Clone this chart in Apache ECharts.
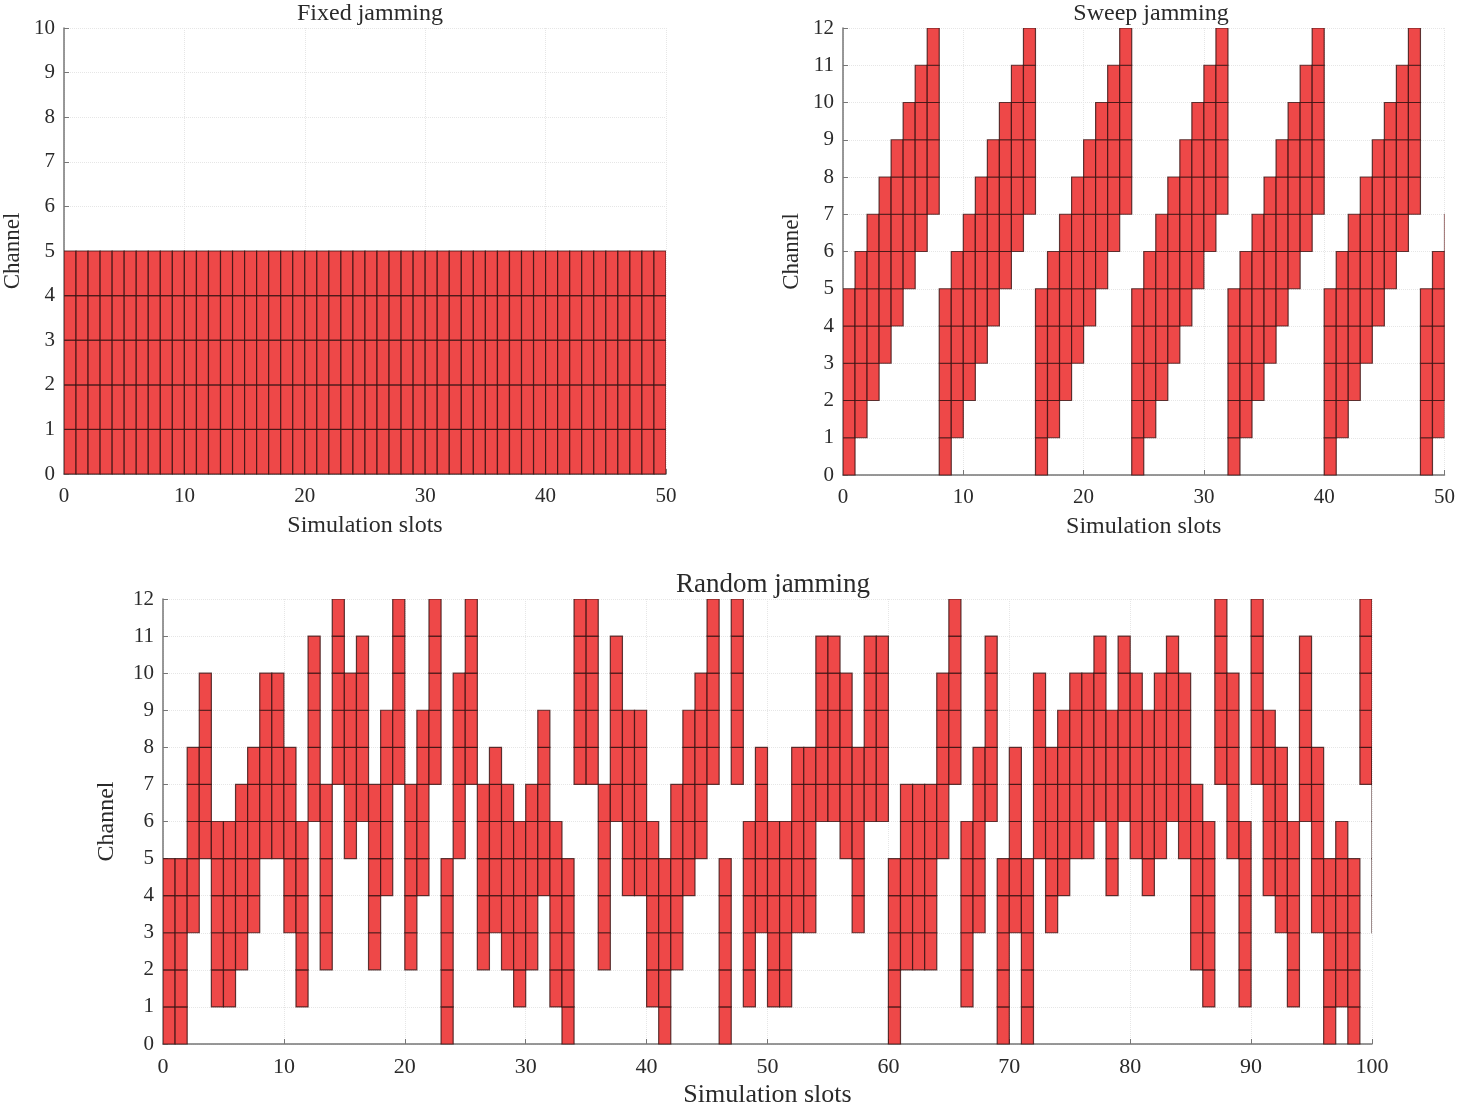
<!DOCTYPE html>
<html>
<head>
<meta charset="utf-8">
<script src="https://cdn.jsdelivr.net/npm/echarts@6/dist/echarts.min.js"></script>
<style>
html,body{margin:0;padding:0;background:#fff;}
#chart{width:1458px;height:1109px;}
</style>
</head>
<body>
<div id="chart"></div>
<script>
// ---- data ----
const jamWidth = 5; // channels jammed per slot
const titles = ['Fixed jamming', 'Sweep jamming', 'Random jamming'];
const xName = 'Simulation slots';
const yName = 'Channel';
// lowest jammed channel per slot
const fixedLow = [0,0,0,0,0,0,0,0,0,0, 0,0,0,0,0,0,0,0,0,0, 0,0,0,0,0,0,0,0,0,0,
                  0,0,0,0,0,0,0,0,0,0, 0,0,0,0,0,0,0,0,0,0];
const sweepLow = [0,1,2,3,4,5,6,7, 0,1,2,3,4,5,6,7, 0,1,2,3,4,5,6,7, 0,1,2,3,4,5,6,7,
                  0,1,2,3,4,5,6,7, 0,1,2,3,4,5,6,7, 0,1,2];
const randomLow = [0,0,3,5,1,1,2,3,5,5, 3,1,6,2,7,5,6,2,4,7,
                   2,4,7,0,5,7,2,3,2,1, 2,4,1,0,7,7,2,6,4,4,
                   1,0,2,4,5,7,0,7,1,3, 1,1,3,3,6,6,5,3,6,6,
                   0,2,2,2,5,7,1,3,6,0, 3,0,5,3,4,5,5,6,4,6,
                   5,4,5,6,5,2,1,7,5,1, 7,4,3,1,6,3,0,1,0,7, 3];
const fixedX = [0, 50], fixedY = [0, 10];
const sweepX = [0, 50], sweepY = [0, 12];
const randomX = [0, 100], randomY = [0, 12];

function toData(lows) {
  return lows.map((lo, i) => [i, lo, lo + jamWidth]);
}

const FILL = '#EE4848';
const STROKE = 'rgba(55,18,18,0.8)';
function renderCells(params, api) {
  const slot = api.value(0), lo = api.value(1), hi = api.value(2);
  const children = [];
  for (let c = lo; c < hi; c++) {
    const p0 = api.coord([slot, c + 1]);
    const p1 = api.coord([slot + 1, c]);
    children.push({
      type: 'rect',
      shape: {x: p0[0], y: p0[1], width: p1[0] - p0[0], height: p1[1] - p0[1]},
      style: {fill: FILL, stroke: STROKE, lineWidth: 1.2}
    });
  }
  const cs = params.coordSys;
  return {type: 'group', children: children,
          clipPath: {type: 'rect', shape: {x: cs.x, y: cs.y, width: cs.width, height: cs.height + 1}}};
}

const FONT = 'Liberation Serif';
const TXT = '#2a2a2a';
function xAxis(idx, range, fs, nfs, nameGap) {
  return {
    gridIndex: idx, type: 'value', min: range[0], max: range[1], interval: 10,
    name: xName, nameLocation: 'middle', nameGap: nameGap,
    nameTextStyle: {fontFamily: FONT, fontSize: nfs, color: TXT},
    axisLine: {show: true, lineStyle: {color: '#777', width: 1.5}},
    axisTick: {show: true, inside: true, length: 5, lineStyle: {color: '#777'}},
    axisLabel: {fontFamily: FONT, fontSize: fs, color: TXT, margin: 12},
    splitLine: {show: true, lineStyle: {color: '#e6e6e6', type: 'dotted', width: 1}}
  };
}
function yAxis(idx, range, fs, nfs, nameGap) {
  return {
    gridIndex: idx, type: 'value', min: range[0], max: range[1], interval: 1,
    name: yName, nameLocation: 'middle', nameGap: nameGap, nameRotate: 90,
    nameTextStyle: {fontFamily: FONT, fontSize: nfs, color: TXT},
    axisLine: {show: true, lineStyle: {color: '#777', width: 1.5}},
    axisTick: {show: true, inside: true, length: 5, lineStyle: {color: '#777'}},
    axisLabel: {fontFamily: FONT, fontSize: fs, color: TXT, margin: 9},
    splitLine: {show: true, lineStyle: {color: '#e6e6e6', type: 'dotted', width: 1}}
  };
}

const chart = echarts.init(document.getElementById('chart'), null, {renderer: 'canvas'});
chart.setOption({
  backgroundColor: '#fff',
  animation: false,
  title: [
    {text: titles[0], left: 365, top: -3, textAlign: 'center',
     textStyle: {fontFamily: FONT, fontSize: 24, fontWeight: 'normal', color: TXT}},
    {text: titles[1], left: 1146, top: -3, textAlign: 'center',
     textStyle: {fontFamily: FONT, fontSize: 24, fontWeight: 'normal', color: TXT}},
    {text: titles[2], left: 768, top: 566, textAlign: 'center',
     textStyle: {fontFamily: FONT, fontSize: 27, fontWeight: 'normal', color: TXT}}
  ],
  grid: [
    {left: 63, top: 28, width: 603, height: 446},
    {left: 843, top: 28, width: 602, height: 447},
    {left: 163, top: 599, width: 1209, height: 448}
  ],
  xAxis: [xAxis(0, fixedX, 21, 24, 40), xAxis(1, sweepX, 21, 24, 40), xAxis(2, randomX, 22, 26, 38)],
  yAxis: [yAxis(0, fixedY, 21, 23, 40), yAxis(1, sweepY, 21, 23, 40), yAxis(2, randomY, 21, 24, 44)],
  series: [
    {type: 'custom', xAxisIndex: 0, yAxisIndex: 0, renderItem: renderCells,
     encode: {x: 0, y: [1, 2]}, data: toData(fixedLow)},
    {type: 'custom', xAxisIndex: 1, yAxisIndex: 1, renderItem: renderCells,
     encode: {x: 0, y: [1, 2]}, data: toData(sweepLow)},
    {type: 'custom', xAxisIndex: 2, yAxisIndex: 2, renderItem: renderCells,
     encode: {x: 0, y: [1, 2]}, data: toData(randomLow)}
  ]
});
</script>
</body>
</html>
